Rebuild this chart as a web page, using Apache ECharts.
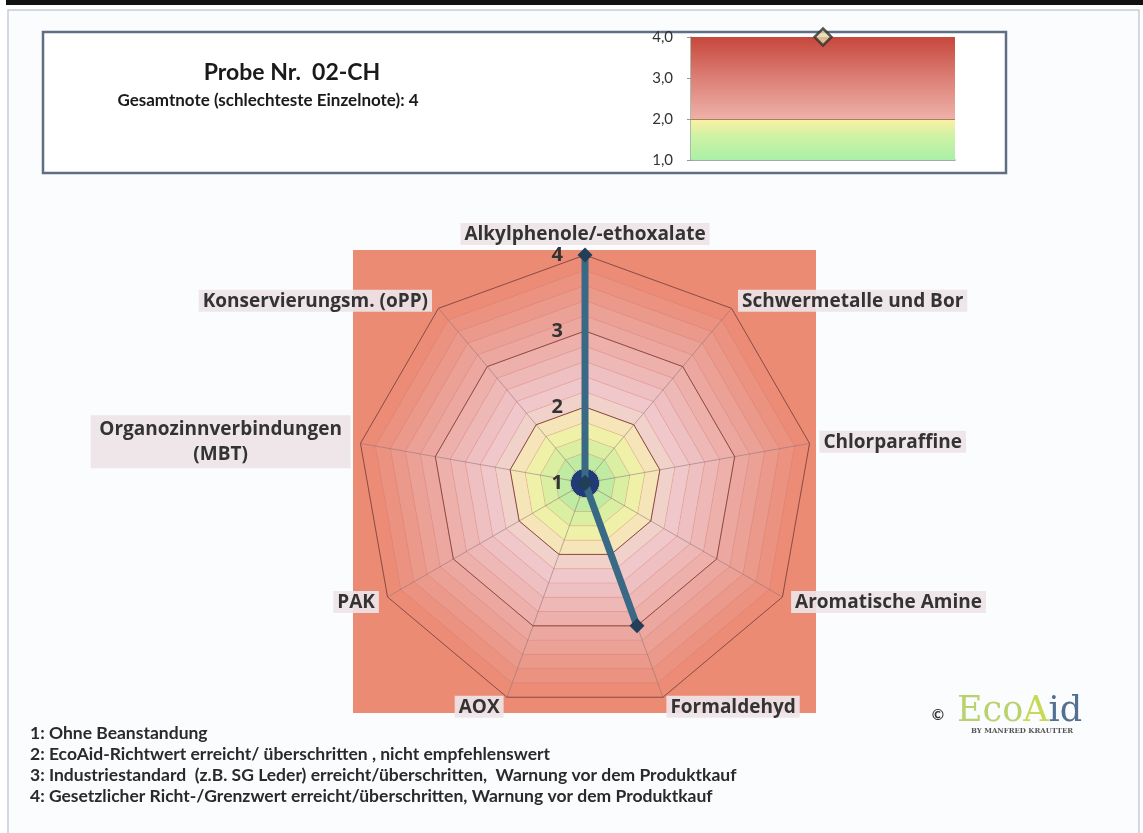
<!DOCTYPE html>
<html><head><meta charset="utf-8">
<script src="https://cdn.jsdelivr.net/npm/echarts@6/dist/echarts.min.js"></script>
<style>html,body{margin:0;padding:0;background:#ffffff}#c{width:1143px;height:833px}</style>
</head><body><div id="c"></div>
<script>
// ---- data (clockwise from the top, as in the picture) ----
const categories = ['Alkylphenole/-ethoxalate', 'Schwermetalle und Bor', 'Chlorparaffine', 'Aromatische Amine', 'Formaldehyd', 'AOX', 'PAK', 'Organozinnverbindungen\n(MBT)', 'Konservierungsm. (oPP)'];
const values = [4, 1, 1, 1, 3, 1, 1, 1, 1];
const centerMarks = [1, 1, 1, 1, 1, 1, 1, 1, 1];
const radarMin = 1;
const radarMax = 4;
const radarTicks = [1, 2, 3, 4];
const overallCategory = ['Gesamtnote'];
const overallValue = [4];
const overallTickValues = [1, 2, 3, 4];
const overallTickLabels = ['1,0', '2,0', '3,0', '4,0'];
const titleText = 'Probe Nr.  02-CH';
const subtitleText = 'Gesamtnote (schlechteste Einzelnote): 4';
const legendLines = [
  '1: Ohne Beanstandung',
  '2: EcoAid-Richtwert erreicht/ überschritten , nicht empfehlenswert',
  '3: Industriestandard  (z.B. SG Leder) erreicht/überschritten,  Warnung vor dem Produktkauf',
  '4: Gesetzlicher Richt-/Grenzwert erreicht/überschritten, Warnung vor dem Produktkauf'
];

// ECharts radar runs counter-clockwise: reorder the clockwise lists
const ccw = [0, 8, 7, 6, 5, 4, 3, 2, 1];
const indNames = ccw.map(i => categories[i]);
const indValues = ccw.map(i => values[i]);
const indCenter = ccw.map(i => centerMarks[i]);

const bandColors = ['#a6e8a6', '#bfeba2', '#dbefa2', '#eff1a8', '#f5e5b8', '#f1d2ca', '#f0c7ca', '#efc0c1', '#eeb8b7', '#edb0ab', '#eca8a0', '#eca196', '#eb998b', '#eb9281', '#ec8c77'];

const FONT = 'Lato, "Open Sans", sans-serif';
const LBL = '"Open Sans", Lato, sans-serif';

const chart = echarts.init(document.getElementById('c'), null, {renderer: 'canvas'});

const option = {
  animation: false,
  backgroundColor: '#ffffff',
  radar: [
    {
      z: 1,
      center: [585, 483],
      radius: 228,
      shape: 'polygon',
      splitNumber: 15,
      startAngle: 90,
      indicator: indNames.map(n => ({name: n, min: radarMin, max: radarMax})),
      axisName: {show: false},
      axisLabel: {show: false},
      axisTick: {show: false},
      axisLine: {show: true, lineStyle: {color: 'rgba(140,115,115,0.55)', width: 1}},
      splitLine: {show: true, lineStyle: {color: 'rgba(190,110,105,0.22)', width: 1}},
      splitArea: {show: true, areaStyle: {color: bandColors}}
    },
    {
      z: 2,
      center: [585, 483],
      radius: 228,
      shape: 'polygon',
      splitNumber: 3,
      startAngle: 90,
      nameGap: 10,
      indicator: indNames.map((n, i) => i === 0
        ? {name: n, min: radarMin, max: radarMax, axisLabel: {show: true}}
        : {name: n, min: radarMin, max: radarMax}),
      axisName: {
        show: true,
        color: '#333333',
        fontFamily: LBL,
        fontWeight: 'bold',
        fontSize: 19,
        backgroundColor: 'rgba(238,228,232,0.92)',
        padding: [2, 4, 1, 4],
        formatter: function (name) {
          if (name.indexOf('\n') >= 0) {
            return name.split('\n').map(l => '{m|' + l + '}').join('\n');
          }
          return name;
        },
        rich: {
          m: {width: 252, align: 'center', fontFamily: LBL, fontWeight: 'bold', fontSize: 19, color: '#333333', lineHeight: 25}
        }
      },
      axisLabel: {
        show: false,
        color: '#333333',
        fontFamily: LBL,
        fontWeight: 'bold',
        fontSize: 20,
        margin: 22,
        formatter: function (v) { return radarTicks.indexOf(v) >= 0 ? String(v) : ''; }
      },
      axisTick: {show: false},
      axisLine: {show: false},
      splitLine: {show: true, lineStyle: {color: '#8c4c44', width: 1}},
      splitArea: {show: false}
    }
  ],
  grid: {left: 691, top: 37, width: 264, height: 123, z: 3},
  xAxis: {
    type: 'category',
    data: overallCategory,
    axisLine: {show: true, lineStyle: {color: '#8a8a8a', width: 1.5}},
    axisTick: {show: false},
    axisLabel: {show: false},
    splitLine: {show: false}
  },
  yAxis: {
    type: 'value',
    min: 1, max: 4, interval: 1,
    axisLine: {show: true, lineStyle: {color: '#8fa88f', width: 1.5}},
    axisTick: {show: true, length: 4, lineStyle: {color: '#999999'}},
    splitLine: {show: false},
    axisLabel: {
      color: '#333333', fontFamily: FONT, fontSize: 15, margin: 18,
      formatter: function (v) { const k = overallTickValues.indexOf(v); return k >= 0 ? overallTickLabels[k] : ''; }
    }
  },
  series: [
    {
      type: 'radar',
      radarIndex: 1,
      z: 4,
      symbol: 'circle',
      symbolSize: 27,
      itemStyle: {color: '#1f3c78'},
      lineStyle: {width: 0, opacity: 0},
      data: [{value: indCenter, name: 'center'}]
    },
    {
      type: 'radar',
      radarIndex: 1,
      z: 5,
      symbol: 'diamond',
      symbolSize: 15,
      itemStyle: {color: '#233f58'},
      lineStyle: {color: '#3a6985', width: 7},
      data: [{value: indValues, name: 'Probe 02-CH'}]
    },
    {
      type: 'scatter',
      xAxisIndex: 0, yAxisIndex: 0,
      z: 6,
      symbol: 'diamond',
      symbolSize: 17,
      itemStyle: {color: '#e6d6a6', borderColor: '#2e2e2e', borderWidth: 2.5},
      data: overallValue,
      markArea: {
        silent: true,
        data: [
          [{yAxis: 2, itemStyle: {color: {type: 'linear', x: 0, y: 0, x2: 0, y2: 1, colorStops: [
            {offset: 0, color: '#c6473c'}, {offset: 0.5, color: '#dc7f76'}, {offset: 1, color: '#eeb1a8'}]}}},
           {yAxis: 4}],
          [{yAxis: 1, itemStyle: {color: {type: 'linear', x: 0, y: 0, x2: 0, y2: 1, colorStops: [
            {offset: 0, color: '#fdf0a4'}, {offset: 0.45, color: '#ccf2a4'}, {offset: 1, color: '#aaf0a8'}]}}},
           {yAxis: 2}]
        ]
      },
      markLine: {
        silent: true,
        symbol: ['none', 'none'],
        label: {show: false},
        lineStyle: {color: '#a88060', type: 'solid', width: 1.2},
        data: [{yAxis: 2}]
      }
    }
  ],
  graphic: [
    {type: 'rect', z: -20, shape: {x: 8, y: 10, width: 1131, height: 830}, style: {fill: '#fbfcfe', stroke: '#c6ccd6', lineWidth: 1.5}},
    {type: 'rect', z: -19, shape: {x: 6, y: 0, width: 1137, height: 5}, style: {fill: '#111111'}},
    {type: 'rect', z: -18, shape: {x: 43, y: 32, width: 963, height: 141}, style: {fill: '#ffffff', stroke: '#5f6e84', lineWidth: 2.5}},
    {type: 'rect', z: -18, shape: {x: 353, y: 250, width: 463, height: 463}, style: {fill: '#ec8b73'}},
    {type: 'text', z: 10, x: 292, y: 73, style: {text: titleText, fill: '#1a1a1a', font: 'bold 23px ' + FONT, textAlign: 'center', textVerticalAlign: 'middle'}},
    {type: 'text', z: 10, x: 268, y: 101, style: {text: subtitleText, fill: '#1a1a1a', font: 'bold 17px ' + FONT, textAlign: 'center', textVerticalAlign: 'middle'}},
    {type: 'text', z: 10, x: 30, y: 733, style: {text: legendLines[0], fill: '#2a2a2a', font: 'bold 17.5px ' + FONT, textVerticalAlign: 'middle'}},
    {type: 'text', z: 10, x: 30, y: 754, style: {text: legendLines[1], fill: '#2a2a2a', font: 'bold 17.5px ' + FONT, textVerticalAlign: 'middle'}},
    {type: 'text', z: 10, x: 30, y: 775, style: {text: legendLines[2], fill: '#2a2a2a', font: 'bold 17.5px ' + FONT, textVerticalAlign: 'middle'}},
    {type: 'text', z: 10, x: 30, y: 796, style: {text: legendLines[3], fill: '#2a2a2a', font: 'bold 17.5px ' + FONT, textVerticalAlign: 'middle'}},
    {type: 'text', z: 10, x: 938, y: 715, style: {text: '©', fill: '#333333', font: 'bold 15px ' + FONT, textAlign: 'center', textVerticalAlign: 'middle'}},
    {type: 'text', z: 10, x: 957, y: 712, style: {
      text: '{a|Eco}{b|A}{c|id}', textVerticalAlign: 'middle',
      rich: {
        a: {fill: '#b9d26e', font: '35px "DejaVu Serif", serif'},
        b: {fill: '#c6da56', font: '35px "DejaVu Serif", serif'},
        c: {fill: '#52708f', font: '35px "DejaVu Serif", serif'}
      }}},
    {type: 'text', z: 10, x: 1022, y: 731, style: {text: 'BY MANFRED KRAUTTER', fill: '#555555', font: 'bold 7px "DejaVu Serif", serif', textAlign: 'center', textVerticalAlign: 'middle'}}
  ]
};
chart.setOption(option);
</script>
</body></html>
